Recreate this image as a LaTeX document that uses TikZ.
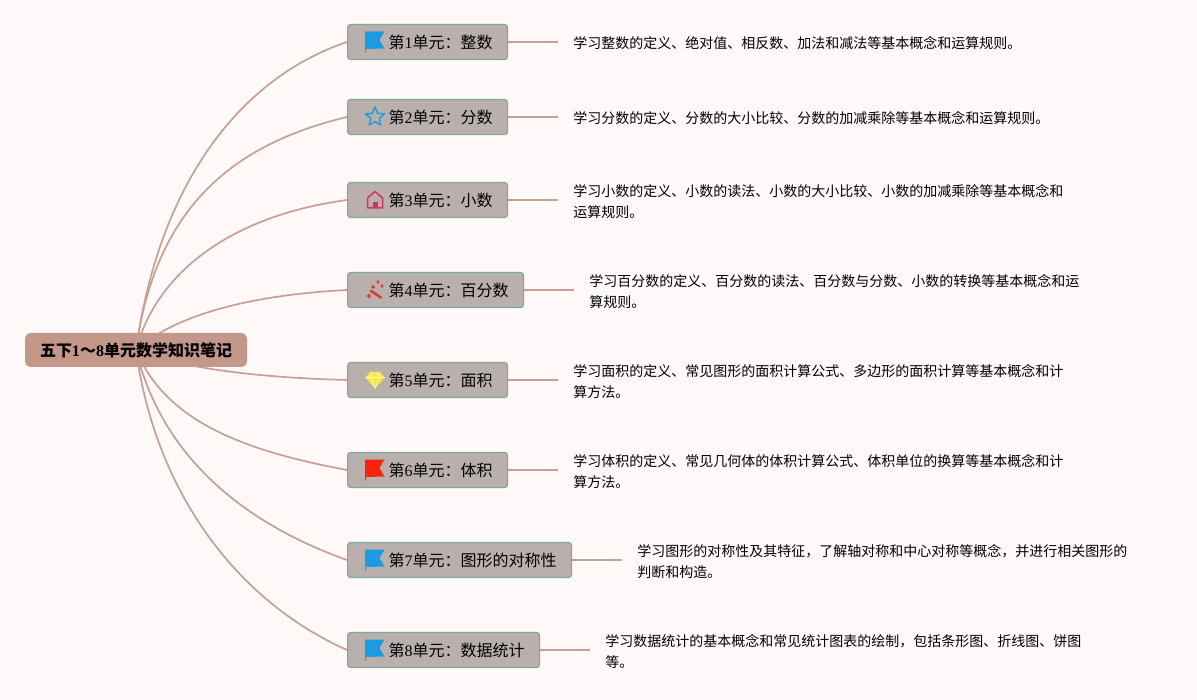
\documentclass[tikz,border=0pt]{standalone}
\usepackage{fontspec}
\setmainfont{Liberation Serif}
\newfontfamily\cjk{Noto Sans CJK SC}
\usetikzlibrary{positioning, backgrounds}
\definecolor{pagebg}{HTML}{FFF9F9}
\definecolor{rootfill}{HTML}{C4978B}
\definecolor{boxfill}{HTML}{B9B0AE}
\definecolor{boxline}{HTML}{7FA89A}
\definecolor{linecol}{HTML}{C6A096}
\definecolor{iconblue}{HTML}{1C9BE2}
\definecolor{iconred}{HTML}{F6240E}
\definecolor{iconpink}{HTML}{D8315B}
\definecolor{iconwand}{HTML}{D63A2C}
\definecolor{iconyellow}{HTML}{F6EA4A}
\newcommand{\unitlabel}[2]{\hspace*{26pt}\raisebox{-1.5pt}{{\cjk 第}#1{\cjk 单元\symbol{"FF1A}#2}}}
\newcommand{\cm}{\symbol{"FF0C}}
\tikzset{
	rootnode/.style={
		rectangle,
		rounded corners=6pt,
		fill=rootfill,
		minimum height=34pt,
		minimum width=222pt,
		inner sep=0pt,
		font=\fontsize{16}{20}\selectfont\bfseries,
	},
	unitbox/.style={
		rectangle,
		rounded corners=3pt,
		draw=boxline, fill=boxfill, line width=1.2pt,
		minimum height=35pt,
		inner xsep=15pt,
		inner ysep=0pt,
		anchor=west,
		font=\fontsize{16}{20}\selectfont,
	},
	notetext/.style={
		inner xsep=15pt,
		inner ysep=0pt,
		align=left,
		yshift=-1.5pt,
		font=\fontsize{14}{21}\selectfont\cjk,
	},
	branch/.style={draw=linecol, line width=1.7pt},
	pics/flagicon/.style={code={
		\fill[#1] (-10,-10.5) -- (9.5,-10.5) -- (4.5,-2) -- (9.5,6.5) -- (-9,7) -- (-9,10.5) -- (-10,10.5) -- cycle;
	}},
	pics/staricon/.style={code={
		\draw[iconblue, line width=1.4pt, line join=round] (-90:10) -- (-54:4.5) -- (-18:10) -- (18:4.5) -- (54:10) -- (90:4.5) -- (126:10) -- (162:4.5) -- (198:10) -- (234:4.5) -- cycle;
	}},
	pics/houseicon/.style={code={
		\draw[iconpink, line width=1.5pt, line join=round] (-7.5,8) -- (-7.5,-2) -- (0,-8.5) -- (7.5,-2) -- (7.5,8) -- cycle;
		\fill[iconpink] (-2.5,8) rectangle (2.5,2);
	}},
	pics/wandicon/.style={code={
		\draw[iconwand, line width=2.4pt] (-4.5,0.5) -- (6.5,8);
		\fill[iconwand] (3,-10) -- (4.5,-8) -- (3,-6) -- (1.5,-8) -- cycle;
		\fill[iconwand] (-6,3.5) -- (-4,6) -- (-6,8.5) -- (-8.5,6) -- cycle;
		\fill[iconwand] (7,-6) -- (8.5,-4) -- (7,-2) -- (5.5,-4) -- cycle;
		\fill[iconwand] (-2,-5) -- (0,-3) -- (-2,-1) -- (-4,-3) -- cycle;
	}},
	pics/gemicon/.style={code={
		\fill[iconyellow] (-5,-8) -- (5,-8) -- (9.5,-2.5) -- (0,8.5) -- (-9.5,-2.5) -- cycle;
		\draw[white!60!iconyellow, line width=0.6pt] (-9.5,-2.5) -- (9.5,-2.5) (-3,-8) -- (-4,-2.5) -- (0,8.5) -- (4,-2.5) -- (3,-8);
	}},
}

\begin{document}
\begin{tikzpicture}[x=1pt,y=-1pt]
	\useasboundingbox (0,0) rectangle (1197,700);
	\node[rootnode] (root) at (136,350) {\raisebox{-1pt}{{\cjk 五下}1{\cjk 〜}8{\cjk 单元数学知识笔记}}};

	\node[unitbox] (u1) at (347,42) {\unitlabel{1}{整数}};
	\node[unitbox] (u2) at (347,117) {\unitlabel{2}{分数}};
	\node[unitbox] (u3) at (347,200) {\unitlabel{3}{小数}};
	\node[unitbox] (u4) at (347,290) {\unitlabel{4}{百分数}};
	\node[unitbox] (u5) at (347,380) {\unitlabel{5}{面积}};
	\node[unitbox] (u6) at (347,470) {\unitlabel{6}{体积}};
	\node[unitbox] (u7) at (347,560) {\unitlabel{7}{图形的对称性}};
	\node[unitbox] (u8) at (347,650) {\unitlabel{8}{数据统计}};

	\node[notetext, right=50pt of u1] (n1) {学习整数的定义、绝对值、相反数、加法和减法等基本概念和运算规则。};
	\node[notetext, right=50pt of u2] (n2) {学习分数的定义、分数的大小比较、分数的加减乘除等基本概念和运算规则。};
	\node[notetext, right=50pt of u3] (n3) {学习小数的定义、小数的读法、小数的大小比较、小数的加减乘除等基本概念和\\运算规则。};
	\node[notetext, right=50pt of u4] (n4) {学习百分数的定义、百分数的读法、百分数与分数、小数的转换等基本概念和运\\算规则。};
	\node[notetext, right=50pt of u5] (n5) {学习面积的定义、常见图形的面积计算公式、多边形的面积计算等基本概念和计\\算方法。};
	\node[notetext, right=50pt of u6] (n6) {学习体积的定义、常见几何体的体积计算公式、体积单位的换算等基本概念和计\\算方法。};
	\node[notetext, right=50pt of u7] (n7) {学习图形的对称性及其特征\cm{}了解轴对称和中心对称等概念\cm{}并进行相关图形的\\判断和构造。};
	\node[notetext, right=50pt of u8] (n8) {学习数据统计的基本概念和常见统计图表的绘制\cm{}包括条形图、折线图、饼图\\等。};

	\pic[xshift=28pt] at (u1.west) {flagicon=iconblue};
	\pic[xshift=28pt] at (u2.west) {staricon};
	\pic[xshift=28pt] at (u3.west) {houseicon};
	\pic[xshift=28pt] at (u4.west) {wandicon};
	\pic[xshift=28pt] at (u5.west) {gemicon};
	\pic[xshift=28pt] at (u6.west) {flagicon=iconred};
	\pic[xshift=28pt] at (u7.west) {flagicon=iconblue};
	\pic[xshift=28pt] at (u8.west) {flagicon=iconblue};

	\begin{scope}[on background layer]
		\fill[pagebg] (0,0) rectangle (1197,700);
		\draw[branch] (root.center) .. controls (158,190) and (235,80) .. (u1.west);
		\draw[branch] (root.center) .. controls (155,210) and (230,145) .. (u2.west);
		\draw[branch] (root.center) .. controls (157,270) and (235,215) .. (u3.west);
		\draw[branch] (root.center) .. controls (175,315) and (250,295) .. (u4.west);
		\draw[branch] (root.center) .. controls (185,370) and (270,378) .. (u5.west);
		\draw[branch] (root.center) .. controls (165,420) and (240,450) .. (u6.west);
		\draw[branch] (root.center) .. controls (160,450) and (235,520) .. (u7.west);
		\draw[branch] (root.center) .. controls (155,490) and (235,600) .. (u8.west);
		\draw[branch] (u1.east) -- (u1.east -| n1.west);
		\draw[branch] (u2.east) -- (u2.east -| n2.west);
		\draw[branch] (u3.east) -- (u3.east -| n3.west);
		\draw[branch] (u4.east) -- (u4.east -| n4.west);
		\draw[branch] (u5.east) -- (u5.east -| n5.west);
		\draw[branch] (u6.east) -- (u6.east -| n6.west);
		\draw[branch] (u7.east) -- (u7.east -| n7.west);
		\draw[branch] (u8.east) -- (u8.east -| n8.west);
	\end{scope}
\end{tikzpicture}
\end{document}
